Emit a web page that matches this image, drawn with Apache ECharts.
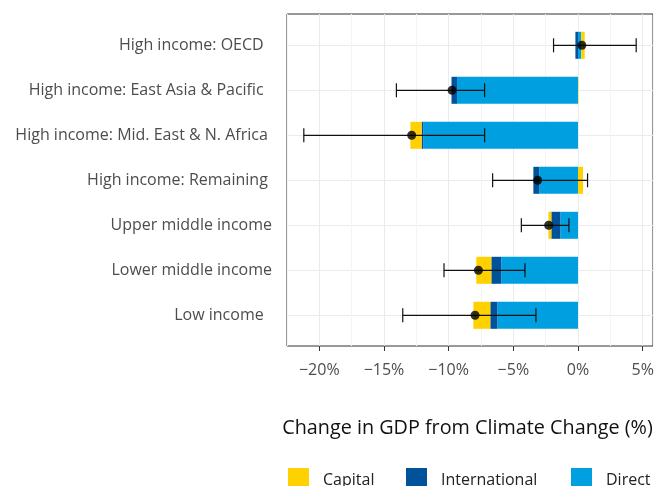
<!DOCTYPE html>
<html>
<head>
<meta charset="utf-8">
<script src="https://cdn.jsdelivr.net/npm/echarts@6/dist/echarts.min.js"></script>
<style>
  html, body { margin: 0; padding: 0; background: #fff; }
  #main { width: 661px; height: 486px; }
</style>
</head>
<body>
<div id="main"></div>
<script>
  // 分类（从上到下）
  var categories = ['High income: OECD  ', 'High income: East Asia & Pacific  ', 'High income: Mid. East & N. Africa ',
    'High income: Remaining ', 'Upper middle income', 'Lower middle income', 'Low income  '];
  // 各分量 (%)
  var direct = [0.25, -9.35, -11.96, -2.99, -1.37, -5.93, -6.24];
  var international = [-0.2, -0.43, -0.13, -0.46, -0.69, -0.77, -0.54];
  var capital = [0.27, 0.03, -0.87, 0.39, -0.23, -1.16, -1.31];
  // 总效应点与误差范围
  var total = [0.3, -9.74, -12.86, -3.12, -2.27, -7.7, -7.96];
  var errLow = [-1.89, -14.04, -21.2, -6.6, -4.38, -10.36, -13.55];
  var errHigh = [4.5, -7.22, -7.22, 0.74, -0.7, -4.1, -3.25];
  var xTicks = [-20, -15, -10, -5, 0, 5];

  var font = 'Open Sans';
  var colors = { Capital: '#FFD100', International: '#00529B', Direct: '#009FDF' };

  var errData = categories.map(function (c, i) { return [i, errLow[i], errHigh[i]]; });
  var pointData = categories.map(function (c, i) { return [total[i], i]; });

  let myChart = echarts.init(document.getElementById('main'));

  function legendFor(name, left) {
    return {
      data: [name], left: left, top: 468, padding: 0, icon: 'rect', itemWidth: 21, itemHeight: 24,
      selectedMode: false,
      textStyle: { fontFamily: font, fontSize: 16, color: '#222', padding: [0, 0, 0, 9] }
    };
  }

  myChart.setOption({
    animation: false,
    backgroundColor: '#fff',
    legend: [legendFor('Capital', 288), legendFor('International', 406), legendFor('Direct', 571)],
    grid: [
      // 外框 + 次网格线
      { left: 287, right: 8, top: 14, bottom: 140, show: true, borderColor: '#333', borderWidth: 1, backgroundColor: 'transparent' },
      // 分类区域
      { left: 287, right: 8, top: 45.3, bottom: 170.7 },
      // 主刻度 -20..5
      { left: 319.3, right: 18.3, top: 14, bottom: 140 }
    ],
    xAxis: [
      {
        gridIndex: 0, type: 'value', min: -22.5, max: 5.8, interval: 2.5,
        axisLine: { show: false }, axisTick: { show: false }, axisLabel: { show: false },
        splitLine: { show: true, lineStyle: { color: '#F4F4F4', width: 1 } },
        name: 'Change in GDP from Climate Change (%)', nameLocation: 'middle', nameGap: 72,
        nameTextStyle: { fontFamily: font, fontSize: 19.8, color: '#111', padding: [0, 5, 0, 0] }
      },
      {
        gridIndex: 1, type: 'value', min: -22.5, max: 5.8, show: false
      },
      {
        gridIndex: 2, type: 'value', min: xTicks[0], max: xTicks[xTicks.length - 1], interval: 5,
        axisLine: { show: false },
        axisTick: { show: true, length: 5, lineStyle: { color: '#333' } },
        axisLabel: {
          fontFamily: font, fontSize: 16, color: '#4D4D4D', margin: 16,
          formatter: function (v) { return String(v).replace('-', '\u2212') + '%'; }
        },
        splitLine: { show: true, lineStyle: { color: '#EBEBEB', width: 1 } }
      }
    ],
    yAxis: [
      { gridIndex: 0, type: 'value', show: false, splitLine: { show: false } },
      {
        gridIndex: 1, type: 'category', data: categories, inverse: true, boundaryGap: false,
        axisLine: { show: false },
        axisTick: { show: true, length: 5, inside: false, lineStyle: { color: '#333' } },
        axisLabel: { fontFamily: font, fontSize: 16, color: '#4D4D4D', margin: 15 },
        splitLine: { show: true, lineStyle: { color: '#EBEBEB', width: 1 } }
      },
      { gridIndex: 2, type: 'value', show: false, splitLine: { show: false } }
    ],
    series: [
      {
        name: 'Direct', type: 'bar', stack: 'total', xAxisIndex: 1, yAxisIndex: 1,
        barWidth: 27, data: direct, itemStyle: { color: colors.Direct }
      },
      {
        name: 'International', type: 'bar', stack: 'total', xAxisIndex: 1, yAxisIndex: 1,
        barWidth: 27, data: international, itemStyle: { color: colors.International }
      },
      {
        name: 'Capital', type: 'bar', stack: 'total', xAxisIndex: 1, yAxisIndex: 1,
        barWidth: 27, data: capital, itemStyle: { color: colors.Capital }
      },
      {
        name: 'err', type: 'custom', xAxisIndex: 1, yAxisIndex: 1, z: 5,
        data: errData, encode: { x: [1, 2], y: 0 },
        renderItem: function (params, api) {
          var idx = api.value(0);
          var lo = api.coord([api.value(1), idx]);
          var hi = api.coord([api.value(2), idx]);
          var h = 7;
          var st = { stroke: '#111', lineWidth: 1.2 };
          return {
            type: 'group', children: [
              { type: 'line', shape: { x1: lo[0], y1: lo[1], x2: hi[0], y2: hi[1] }, style: st },
              { type: 'line', shape: { x1: lo[0], y1: lo[1] - h, x2: lo[0], y2: lo[1] + h }, style: st },
              { type: 'line', shape: { x1: hi[0], y1: hi[1] - h, x2: hi[0], y2: hi[1] + h }, style: st }
            ]
          };
        }
      },
      {
        name: 'point', type: 'scatter', xAxisIndex: 1, yAxisIndex: 1, z: 6,
        symbolSize: 9, data: pointData, itemStyle: { color: '#000' }
      }
    ]
  });
</script>
</body>
</html>
